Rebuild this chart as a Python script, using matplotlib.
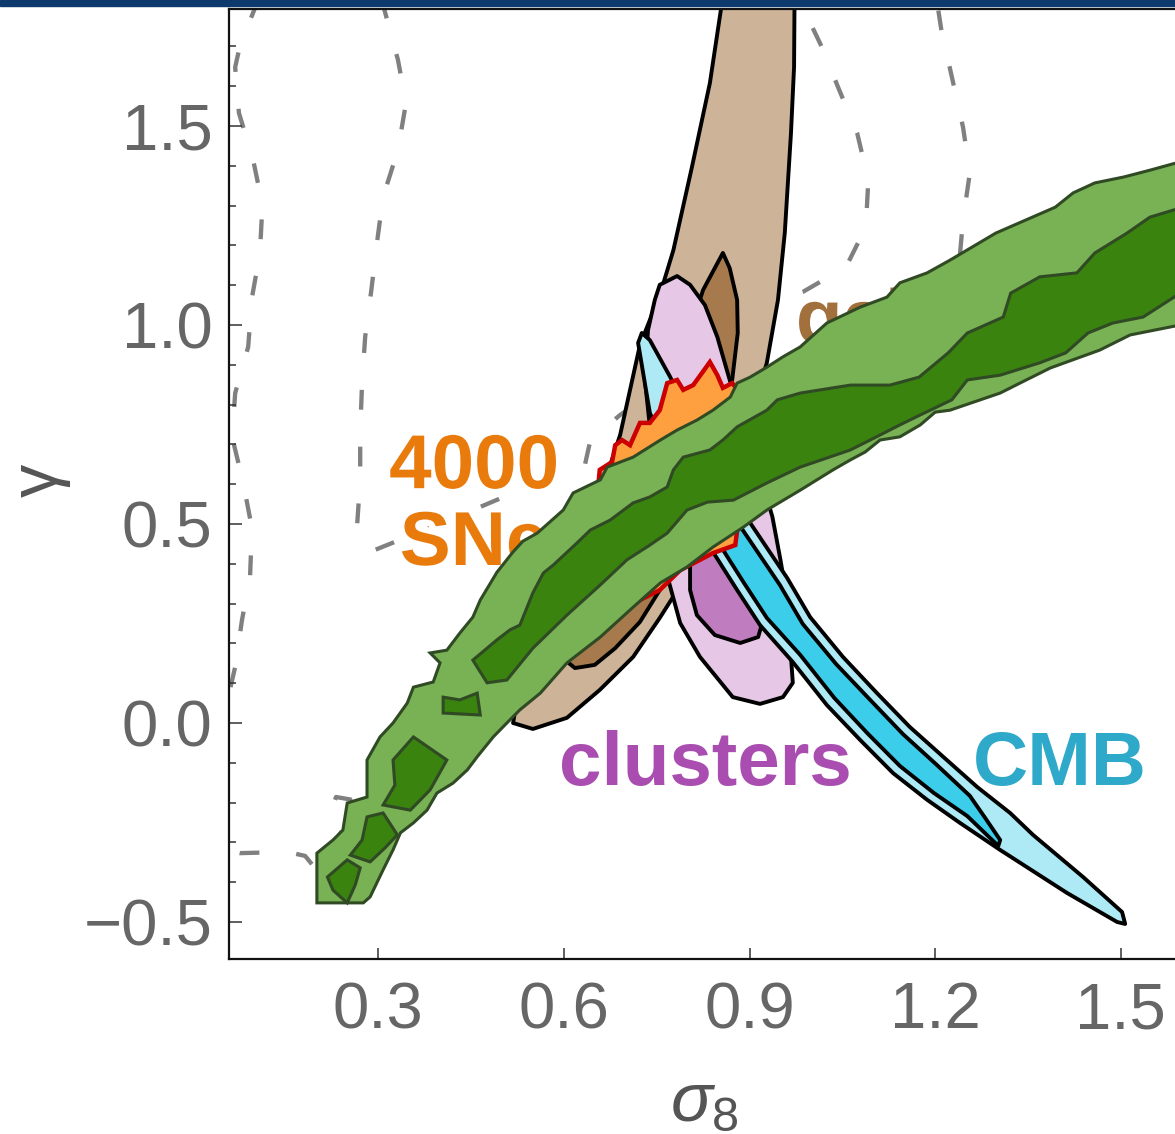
import matplotlib
matplotlib.use('Agg')
import matplotlib.pyplot as plt
import matplotlib.patheffects as pe
from matplotlib.patches import Rectangle
from matplotlib.ticker import MultipleLocator

plt.rcParams['font.family'] = ['Liberation Sans', 'DejaVu Sans']
plt.rcParams['mathtext.fontset'] = 'custom'
plt.rcParams['mathtext.rm'] = 'Liberation Sans'
plt.rcParams['mathtext.it'] = 'Liberation Sans:italic'

# ---- data (sigma_8, gamma) ----
x_ticks = [0.3, 0.6, 0.9, 1.2, 1.5]
x_tick_labels = ['0.3', '0.6', '0.9', '1.2', '1.5']
y_ticks = [-0.5, 0.0, 0.5, 1.0, 1.5]
y_tick_labels = ['\u22120.5', '0.0', '0.5', '1.0', '1.5']

# grey dashed contours (outer / inner)
dash_outer_x = [0.106, 0.103, 0.077, 0.069, 0.075, 0.098, 0.113, 0.109, 0.096, 0.090,
                0.069, 0.064, 0.082, 0.096, 0.093, 0.080, 0.069, 0.053, 0.012, -0.004,
                0.012, 0.077, 0.153, 0.182, 0.203, 0.247, 0.226, 0.232, 0.258, 0.335,
                0.416, 0.497, 0.658, 0.820, 0.982, 1.143, 1.224, 1.240, 1.245, 1.256,
                1.245, 1.227, 1.210, 1.200]
dash_outer_y = [1.842, 1.804, 1.704, 1.648, 1.533, 1.415, 1.302, 1.181, 1.068, 0.945,
                0.829, 0.719, 0.603, 0.490, 0.367, 0.259, 0.141, 0.033, -0.093, -0.219,
                -0.307, -0.327, -0.324, -0.334, -0.374, -0.256, -0.209, -0.186, -0.193, -0.118,
                0.020, 0.183, 0.410, 0.585, 0.761, 0.912, 1.063, 1.176, 1.264, 1.382,
                1.497, 1.623, 1.741, 1.842]
dash_inner_x = [0.308, 0.308, 0.332, 0.345, 0.332, 0.308, 0.298, 0.289, 0.279, 0.274,
                0.271, 0.271, 0.266, 0.274, 0.295, 0.335, 0.400, 0.465, 0.529, 0.602,
                0.634, 0.643, 0.691, 0.820, 0.949, 0.986, 1.056, 1.088, 1.092, 1.074,
                1.043, 1.017, 0.986, 0.975]
dash_inner_y = [1.842, 1.804, 1.666, 1.558, 1.440, 1.322, 1.206, 1.088, 0.970, 0.854,
                0.731, 0.611, 0.497, 0.447, 0.435, 0.460, 0.505, 0.543, 0.585, 0.621,
                0.648, 0.711, 0.774, 0.912, 1.063, 1.083, 1.146, 1.246, 1.364, 1.482,
                1.598, 1.698, 1.799, 1.842]

# galaxies
gal_out_x = [0.861, 0.836, 0.807, 0.777, 0.755, 0.723, 0.707, 0.691, 0.667, 0.634, 0.594, 0.553,
             0.521, 0.518, 0.550, 0.605, 0.658, 0.712, 0.755, 0.804, 0.852, 0.901, 0.928, 0.946,
             0.957, 0.967, 0.972, 0.973]
gal_out_y = [1.867, 1.608, 1.397, 1.188, 1.075, 0.950, 0.837, 0.724, 0.611, 0.460, 0.284, 0.133,
             0.028, 0.000, -0.015, 0.013, 0.083, 0.166, 0.264, 0.384, 0.560, 0.761, 0.905, 1.063,
             1.231, 1.482, 1.648, 1.867]
gal_in_x = [0.857, 0.825, 0.804, 0.772, 0.723, 0.675, 0.626, 0.602, 0.618, 0.650, 0.683, 0.723,
            0.755, 0.804, 0.844, 0.872, 0.881, 0.880, 0.868]
gal_in_y = [1.181, 1.088, 0.987, 0.812, 0.611, 0.410, 0.234, 0.158, 0.138, 0.146, 0.188, 0.254,
            0.334, 0.510, 0.711, 0.862, 0.980, 1.063, 1.143]

# clusters
clu_out_x = [0.755, 0.783, 0.804, 0.828, 0.848, 0.868, 0.893, 0.917, 0.937, 0.950, 0.961, 0.967,
             0.970, 0.954, 0.917, 0.873, 0.820, 0.788, 0.769, 0.755, 0.743, 0.731, 0.736, 0.747]
clu_out_y = [1.101, 1.123, 1.101, 1.050, 0.970, 0.862, 0.736, 0.623, 0.518, 0.410, 0.309, 0.166,
             0.101, 0.065, 0.048, 0.065, 0.166, 0.251, 0.359, 0.510, 0.686, 0.862, 0.987, 1.063]
clu_in_x = [0.804, 0.804, 0.815, 0.844, 0.885, 0.914, 0.922, 0.917, 0.893, 0.861, 0.828, 0.807]
clu_in_y = [0.397, 0.334, 0.271, 0.221, 0.201, 0.216, 0.259, 0.334, 0.422, 0.510, 0.548, 0.485]

# CMB
cmb_out_x = [0.726, 0.739, 0.772, 0.820, 0.901, 0.961, 0.998, 1.051, 1.106, 1.159, 1.213, 1.268,
             1.321, 1.358, 1.439, 1.502, 1.507, 1.494, 1.413, 1.305, 1.240, 1.187, 1.132, 1.079,
             1.025, 0.970, 0.917, 0.880, 0.836, 0.788, 0.739, 0.720]
cmb_out_y = [0.980, 0.962, 0.869, 0.711, 0.503, 0.364, 0.266, 0.166, 0.075, -0.010, -0.085, -0.161,
             -0.226, -0.281, -0.387, -0.475, -0.505, -0.500, -0.427, -0.319, -0.251, -0.193, -0.126, -0.043,
             0.045, 0.153, 0.246, 0.334, 0.442, 0.611, 0.779, 0.955]
cmb_in_x = [0.788, 0.809, 0.889, 0.949, 0.986, 1.040, 1.095, 1.148, 1.201, 1.256, 1.281, 1.305,
            1.302, 1.252, 1.198, 1.143, 1.090, 1.037, 0.982, 0.928, 0.891, 0.847, 0.820]
cmb_in_y = [0.711, 0.693, 0.485, 0.347, 0.249, 0.148, 0.058, -0.028, -0.103, -0.183, -0.239, -0.294,
            -0.309, -0.234, -0.176, -0.108, -0.025, 0.063, 0.171, 0.264, 0.352, 0.460, 0.585]

# 4000 SNe
sne_x = [0.655, 0.658, 0.678, 0.683, 0.694, 0.707, 0.723, 0.739, 0.755, 0.767, 0.783, 0.793,
         0.809, 0.823, 0.836, 0.848, 0.857, 0.872, 0.881, 0.893, 0.893, 0.877, 0.841, 0.820,
         0.788, 0.755, 0.723, 0.691, 0.667, 0.650, 0.642, 0.646]
sne_y = [0.585, 0.636, 0.656, 0.698, 0.711, 0.698, 0.754, 0.754, 0.786, 0.854, 0.862, 0.837,
         0.849, 0.879, 0.907, 0.874, 0.842, 0.854, 0.837, 0.812, 0.636, 0.447, 0.427, 0.410,
         0.384, 0.334, 0.309, 0.271, 0.254, 0.284, 0.410, 0.510]

# green band (outer and inner regions)
green_out_x = [0.201, 0.201, 0.227, 0.243, 0.250, 0.282, 0.282, 0.303, 0.324, 0.347,
               0.357, 0.389, 0.400, 0.384, 0.411, 0.432, 0.453, 0.465, 0.492, 0.518,
               0.534, 0.557, 0.599, 0.615, 0.631, 0.659, 0.670, 0.712, 0.756, 0.783,
               0.815, 0.841, 0.869, 0.880, 0.901, 0.928, 0.954, 0.982, 1.025, 1.079,
               1.122, 1.143, 1.187, 1.224, 1.298, 1.394, 1.423, 1.458, 1.505, 1.547,
               1.596,
               1.596, 1.515, 1.466, 1.386, 1.337, 1.305, 1.224, 1.200, 1.176, 1.143,
               1.111, 1.087, 1.063, 1.035, 0.982, 0.928, 0.890, 0.841, 0.799, 0.756,
               0.712, 0.659, 0.605, 0.562, 0.529, 0.508, 0.486, 0.460, 0.444, 0.421,
               0.395, 0.379, 0.357, 0.336, 0.324, 0.308, 0.287, 0.276]
green_out_y = [-0.452, -0.327, -0.294, -0.269, -0.201, -0.186, -0.093, -0.035, 0.000, 0.050,
               0.090, 0.103, 0.151, 0.176, 0.183, 0.226, 0.266, 0.309, 0.379, 0.430,
               0.457, 0.477, 0.535, 0.578, 0.590, 0.611, 0.643, 0.668, 0.711, 0.736,
               0.761, 0.786, 0.819, 0.854, 0.869, 0.894, 0.920, 0.945, 1.005, 1.045,
               1.070, 1.106, 1.131, 1.163, 1.231, 1.296, 1.332, 1.357, 1.372, 1.389,
               1.410,
               1.000, 0.975, 0.937, 0.892, 0.854, 0.829, 0.786, 0.781, 0.749, 0.719,
               0.711, 0.681, 0.661, 0.636, 0.585, 0.535, 0.492, 0.442, 0.392, 0.352,
               0.291, 0.216, 0.151, 0.075, 0.033, 0.000, -0.035, -0.085, -0.118, -0.151,
               -0.176, -0.219, -0.251, -0.276, -0.319, -0.369, -0.437, -0.452]
green_in_x = [0.453, 0.492, 0.513, 0.529, 0.550, 0.567, 0.583, 0.621, 0.643, 0.675,
              0.712, 0.739, 0.767, 0.777, 0.793, 0.836, 0.857, 0.880, 0.928, 0.945,
              0.982, 1.063, 1.127, 1.174, 1.221, 1.252, 1.310, 1.322, 1.369, 1.429,
              1.458, 1.510, 1.547, 1.596,
              1.596, 1.536, 1.487, 1.447, 1.411, 1.369, 1.305, 1.252, 1.227, 1.176,
              1.143, 1.095, 1.063, 0.982, 0.928, 0.874, 0.832, 0.799, 0.767, 0.739,
              0.702, 0.659, 0.605, 0.550, 0.508, 0.476]
green_in_y = [0.158, 0.209, 0.234, 0.246, 0.327, 0.377, 0.397, 0.452, 0.485, 0.510,
              0.553, 0.568, 0.593, 0.636, 0.668, 0.686, 0.711, 0.744, 0.786, 0.812,
              0.829, 0.849, 0.849, 0.869, 0.930, 0.980, 1.020, 1.080, 1.121, 1.131,
              1.181, 1.231, 1.271, 1.294,
              1.080, 1.020, 1.005, 0.980, 0.930, 0.905, 0.874, 0.862, 0.812, 0.774,
              0.749, 0.711, 0.686, 0.643, 0.603, 0.560, 0.555, 0.535, 0.477, 0.447,
              0.410, 0.347, 0.271, 0.188, 0.108, 0.101]
# small inner islands in the lower-left part of the band
green_isl_x = [
    [0.405, 0.432, 0.460, 0.465, 0.405],
    [0.324, 0.357, 0.411, 0.384, 0.352, 0.308, 0.327],
    [0.282, 0.308, 0.331, 0.311, 0.287, 0.255, 0.274],
    [0.250, 0.271, 0.263, 0.250, 0.227, 0.218],
]
green_isl_y = [
    [0.065, 0.058, 0.075, 0.020, 0.025],
    [-0.093, -0.035, -0.093, -0.168, -0.219, -0.206, -0.156],
    [-0.236, -0.226, -0.281, -0.314, -0.349, -0.332, -0.294],
    [-0.344, -0.364, -0.407, -0.452, -0.420, -0.387],
]

# ---- figure ----
fig = plt.figure(figsize=(11.75, 11.34), dpi=100)
fig.patches.append(Rectangle((0, 1 - 6 / 1134), 1, 6 / 1134, transform=fig.transFigure,
                             color='#0c3a6c', zorder=0))
ax = fig.add_axes([229 / 1175, 1 - 959 / 1134, 1 - 229 / 1175, 950 / 1134])

# dashed reference contours
dash_style = dict(color='#808080', lw=3.1, linestyle=(0, (4.6, 8.6)), zorder=1,
                  dash_capstyle='butt')
ax.plot(dash_outer_x, dash_outer_y, **dash_style)
ax.plot(dash_inner_x, dash_inner_y, **dash_style)

halo = [pe.withStroke(linewidth=9, foreground='white')]
label_kw = dict(fontsize=55, fontweight='bold', zorder=1.5, path_effects=halo)
ax.text(0.455, 0.590, '4000', color='#e97a0c', ha='center', va='baseline', **label_kw)
ax.text(0.455, 0.397, 'SNe', color='#e97a0c', ha='center', va='baseline', **label_kw)
ax.text(0.975, 0.955, 'galaxies', color='#a2703c', ha='left', va='baseline', **label_kw)

line_kw = dict(edgecolor='black', lw=2.8, joinstyle='round')
ax.fill(gal_out_x, gal_out_y, facecolor='#cdb398', zorder=2, **line_kw)
ax.fill(gal_in_x, gal_in_y, facecolor='#a67a4d', zorder=3, **line_kw)
ax.fill(clu_out_x, clu_out_y, facecolor='#e6c8e6', zorder=4, **line_kw)
ax.fill(clu_in_x, clu_in_y, facecolor='#bf7dbf', zorder=5, **line_kw)
ax.fill(cmb_out_x, cmb_out_y, facecolor='#aeeaf6', zorder=6, **line_kw)
ax.fill(cmb_in_x, cmb_in_y, facecolor='#3ccdeb', zorder=7, **line_kw)
ax.fill(sne_x, sne_y, facecolor='#ffa040', edgecolor='#cc0000', lw=3.2, joinstyle='miter', zorder=8)

green_kw = dict(edgecolor='#304a24', lw=2.2, joinstyle='miter')
ax.fill(green_out_x, green_out_y, facecolor='#79b155', zorder=9, **green_kw)
ax.fill(green_in_x, green_in_y, facecolor='#3a830f', zorder=10, **green_kw)
for gx, gy in zip(green_isl_x, green_isl_y):
    ax.fill(gx, gy, facecolor='#3a830f', zorder=10, **green_kw)

ax.text(0.828, -0.156, 'clusters', color='#a94db0', ha='center', va='baseline',
        fontsize=55, fontweight='bold', zorder=12)
ax.text(1.402, -0.156, 'CMB', color='#2ea9c9', ha='center', va='baseline',
        fontsize=55, fontweight='bold', zorder=12)

# ---- axes styling ----
ax.set_xlim(0.059, 1.5875)
ax.set_ylim(-0.593, 1.794)
ax.set_xticks(x_ticks)
ax.set_xticklabels(x_tick_labels)
ax.set_yticks(y_ticks)
ax.set_yticklabels(y_tick_labels)
ax.yaxis.set_minor_locator(MultipleLocator(0.1))
ax.tick_params(axis='both', which='both', direction='in', colors='#333333',
               labelcolor='#666666', labelsize=47, width=1.1)
ax.tick_params(axis='y', which='major', length=9, pad=12)
ax.tick_params(axis='y', which='minor', length=5)
ax.tick_params(axis='x', which='major', length=8, pad=16)
ax.spines['right'].set_visible(False)
for s in ['left', 'bottom', 'top']:
    ax.spines[s].set_linewidth(1.6)
    ax.spines[s].set_color('#111111')

ax.set_xlabel(r'$\sigma_8$', fontsize=50, color='#555555', va='center')
ax.xaxis.set_label_coords(0.503, -0.152)
ax.set_ylabel('\u03b3', fontsize=48, color='#555555', va='center')
ax.yaxis.set_label_coords(-0.2, 0.504)

fig.savefig('out.png', dpi=100)
